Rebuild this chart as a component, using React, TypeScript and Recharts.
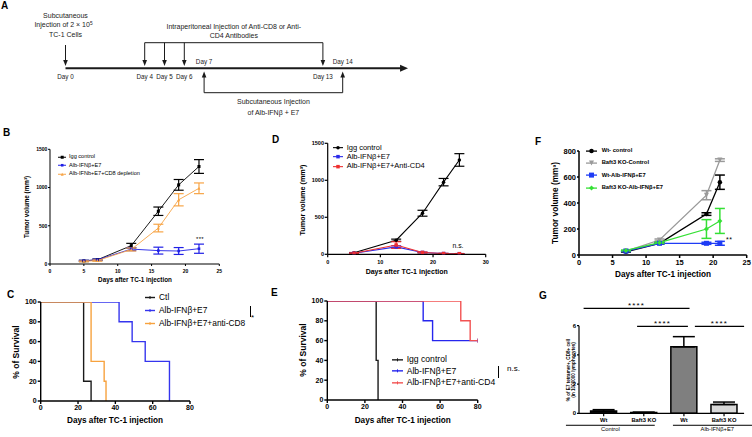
import React from 'react';
import {
  LineChart, Line, XAxis, YAxis, ErrorBar, Legend, ReferenceDot, ReferenceLine,
  BarChart, Bar, Cell, ComposedChart, Scatter,
} from 'recharts';

const FONT = '"Liberation Sans", Arial, Helvetica, sans-serif';

// A: treatment schedule, in days
const A_CELL_DAY = 0;
const A_ANTIBODY_DAYS = [4, 5, 6, 13];
const A_VACCINE_DAYS = [7, 14];
const A_AXIS_END = 17.3;

// B: tumor volume, CD8 depletion
const B_DAYS = [5, 7, 12, 16, 19, 22];
const B_IGG = [40, 55, 240, 690, 1035, 1275];
const B_IGG_ERR = [8, 10, 30, 55, 70, 90];
const B_ALB = [42, 55, 195, 175, 170, 200];
const B_ALB_ERR = [6, 8, 20, 45, 45, 60];
const B_CD8 = [35, 45, 190, 470, 840, 990];
const B_CD8_ERR = [5, 8, 20, 50, 80, 70];

// C: survival, CD8 depletion
const C_CTL_DAYS = [0, 23, 27];
const C_CTL_SURV = [100, 20, 0];
const C_ALB_DAYS = [0, 42, 49, 56, 69];
const C_ALB_SURV = [100, 80, 60, 40, 0];
const C_CD8_DAYS = [0, 27, 34, 35];
const C_CD8_SURV = [100, 40, 20, 0];

// D: tumor volume, CD4 depletion
const D_DAYS = [5, 13, 18, 22, 25];
const D_IGG = [20, 190, 555, 975, 1275];
const D_IGG_ERR = [4, 15, 40, 50, 85];
const D_ALB = [15, 100, 25, 10, 8];
const D_ALB_ERR = [3, 15, 5, 3, 2];
const D_CD4 = [15, 125, 25, 10, 8];
const D_CD4_ERR = [3, 45, 6, 3, 2];

// E: survival, CD4 depletion
const E_IGG_DAYS = [0, 26, 27];
const E_IGG_SURV = [100, 40, 0];
const E_ALB_DAYS = [0, 51, 56, 80];
const E_ALB_SURV = [100, 80, 60, 60];
const E_CD4_DAYS = [0, 71, 76, 80];
const E_CD4_SURV = [100, 80, 60, 60];

// F: Baft3 KO tumor volume
const F_DAYS = [7, 12, 19, 21];
const F_WT_CTL = [25, 90, 315, 560];
const F_WT_CTL_ERR = [3, 5, 10, 55];
const F_KO_CTL = [30, 115, 460, 730];
const F_KO_CTL_ERR = [3, 8, 35, 10];
const F_WT_ALB = [30, 90, 90, 90];
const F_WT_ALB_ERR = [3, 5, 8, 15];
const F_KO_ALB = [35, 95, 200, 262];
const F_KO_ALB_ERR = [3, 5, 72, 96];

// G: E7 tetramer+ CD8+ cells
const G_GENOTYPES = ['Wt', 'Baft3 KO', 'Wt', 'Baft3 KO'];
const G_GROUPS = ['Control', 'Alb-IFNβ+E7'];
const G_VALUES = [0.15, 0.05, 4.55, 0.6];
const G_ERR = [0.1, 0.03, 0.7, 0.17];
const G_FILLS = ['#111111', '#111111', '#7f7f7f', '#d9d9d9'];

type Shape = 'square' | 'circle' | 'triUp' | 'triDown' | 'diamond' | 'tick' | 'none';

function mark(shape: Shape, x: number, y: number, size: number, color: string, key?: string) {
  const h = size / 2;
  switch (shape) {
    case 'square':
      return <rect key={key} x={x - h} y={y - h} width={size} height={size} fill={color} />;
    case 'circle':
      return <circle key={key} cx={x} cy={y} r={h} fill={color} />;
    case 'triUp':
      return <polygon key={key} points={`${x},${y - h} ${x + h},${y + h} ${x - h},${y + h}`} fill={color} />;
    case 'triDown':
      return <polygon key={key} points={`${x},${y + h} ${x + h},${y - h} ${x - h},${y - h}`} fill={color} />;
    case 'diamond':
      return <polygon key={key} points={`${x},${y - h} ${x + h},${y} ${x},${y + h} ${x - h},${y}`} fill={color} />;
    case 'tick':
      return <line key={key} x1={x} x2={x} y1={y - h} y2={y + h} stroke={color} strokeWidth={1} />;
    default:
      return <g key={key} />;
  }
}

const dotOf = (shape: Shape, size: number, color: string) => (p: any) =>
  mark(shape, p.cx, p.cy, size, color, `d${p.index}`);

const endTick = (last: number, color: string) => (p: any) =>
  p.index === last ? mark('tick', p.cx, p.cy, 4, color, `d${p.index}`) : <g key={`d${p.index}`} />;

interface Item { name: string; color: string; shape: Shape; size: number }

function legendContent(items: Item[], o: { font: number; bold?: boolean; row: number; icon: number; gap: number; lw: number }) {
  return () => (
    <div style={{ fontFamily: FONT, fontSize: o.font, fontWeight: o.bold ? 'bold' : 'normal', color: '#000', whiteSpace: 'nowrap' }}>
      {items.map((it) => (
        <div key={it.name} style={{ display: 'flex', alignItems: 'center', height: o.row }}>
          <svg width={o.icon} height={o.row} style={{ display: 'block', flex: 'none' }}>
            <line x1={0} x2={o.icon} y1={o.row / 2} y2={o.row / 2} stroke={it.color} strokeWidth={o.lw} />
            {mark(it.shape, o.icon / 2, o.row / 2, it.size, it.color)}
          </svg>
          <span style={{ marginLeft: o.gap, lineHeight: 1 }}>{it.name}</span>
        </div>
      ))}
    </div>
  );
}

function Title({ x, y, size, rotate, children }: { x: number; y: number; size: number; rotate?: boolean; children: React.ReactNode }) {
  return (
    <text x={x} y={y} transform={rotate ? `rotate(-90 ${x} ${y})` : undefined} textAnchor="middle"
      dominantBaseline="central" fontFamily={FONT} fontSize={size} fontWeight="bold" fill="#000">
      {children}
    </text>
  );
}

const axisProps = (font: number, tickSize: number, tickMargin: number, sw: number) => ({
  tick: { fontSize: font, fontWeight: 'bold', fill: '#000', fontFamily: FONT },
  tickSize,
  tickMargin,
  tickLine: { stroke: '#000', strokeWidth: sw },
  axisLine: { stroke: '#000', strokeWidth: sw },
  interval: 0 as const,
  allowDataOverflow: true,
});

const textShape = (text: string, size: number, spacing = 0) => (p: any) => (
  <text x={p.cx} y={p.cy} textAnchor="middle" dominantBaseline="central" fontFamily={FONT}
    fontSize={size} letterSpacing={spacing} fill="#000">{text}</text>
);

function Schedule() {
  const W = 430;
  const H = 125;
  const pxPerDay = 19.8;
  const dMin = -65.5 / pxPerDay;
  const dMax = dMin + W / pxPerDay;
  const lineY = 68.3;
  const topY = 42.7;
  const botY = 92.7;
  const downTip = 66;
  const upTip = 71.5;
  const ink = '#1a1a1a';
  const abStart = A_ANTIBODY_DAYS[0];
  const abEnd = A_ANTIBODY_DAYS[A_ANTIBODY_DAYS.length - 1];
  const vxStart = A_VACCINE_DAYS[0];
  const vxEnd = A_VACCINE_DAYS[A_VACCINE_DAYS.length - 1];
  const downHeads = [A_CELL_DAY, ...A_ANTIBODY_DAYS].map((d) => ({ day: d, y: downTip }));
  const upHeads = A_VACCINE_DAYS.map((d) => ({ day: d, y: upTip }));
  const allDays = [A_CELL_DAY, ...A_ANTIBODY_DAYS, ...A_VACCINE_DAYS];
  const txt = { fontFamily: FONT, fill: '#222', textAnchor: 'middle' as const };

  return (
    <ComposedChart width={W} height={H} margin={{ top: 0, right: 0, bottom: 0, left: 0 }}>
      <XAxis type="number" dataKey="day" domain={[dMin, dMax]} hide allowDataOverflow />
      <YAxis type="number" dataKey="y" domain={[0, H]} reversed hide allowDataOverflow />
      <ReferenceLine segment={[{ x: A_CELL_DAY, y: lineY }, { x: A_AXIS_END - 0.3, y: lineY }]} stroke={ink} strokeWidth={2} />
      <ReferenceLine segment={[{ x: A_CELL_DAY, y: 45 }, { x: A_CELL_DAY, y: downTip - 4 }]} stroke={ink} />
      <ReferenceLine segment={[{ x: abStart, y: topY }, { x: abEnd, y: topY }]} stroke={ink} />
      {A_ANTIBODY_DAYS.map((d) => (
        <ReferenceLine key={`ab${d}`} segment={[{ x: d, y: topY }, { x: d, y: downTip - 4 }]} stroke={ink} />
      ))}
      <ReferenceLine segment={[{ x: vxStart, y: botY }, { x: vxEnd, y: botY }]} stroke={ink} />
      {A_VACCINE_DAYS.map((d) => (
        <ReferenceLine key={`vx${d}`} segment={[{ x: d, y: botY }, { x: d, y: upTip + 4 }]} stroke={ink} />
      ))}
      <Scatter data={downHeads} isAnimationActive={false}
        shape={(p: any) => <polygon points={`${p.cx - 2.3},${p.cy - 6} ${p.cx + 2.3},${p.cy - 6} ${p.cx},${p.cy}`} fill={ink} />} />
      <Scatter data={upHeads} isAnimationActive={false}
        shape={(p: any) => <polygon points={`${p.cx - 2.3},${p.cy + 6} ${p.cx + 2.3},${p.cy + 6} ${p.cx},${p.cy}`} fill={ink} />} />
      <Scatter data={[{ day: A_AXIS_END, y: lineY }]} isAnimationActive={false}
        shape={(p: any) => <polygon points={`${p.cx - 8},${p.cy - 3.5} ${p.cx - 8},${p.cy + 3.5} ${p.cx},${p.cy}`} fill={ink} />} />
      {allDays.map((d) => (
        <ReferenceDot key={`lab${d}`} x={d} y={A_VACCINE_DAYS.includes(d) ? 64 : 79.2} r={0}
          shape={(p: any) => <text x={p.cx} y={p.cy} {...txt} fontSize={6.3}>{`Day ${d}`}</text>} />
      ))}
      <ReferenceDot x={A_CELL_DAY} y={17.5} r={0}
        shape={(p: any) => (
          <text x={p.cx} y={p.cy} {...txt} fontSize={7}>
            <tspan x={p.cx} dy={0}>Subcutaneous</tspan>
            <tspan x={p.cx - 2} dy={9.7}>Injection of 2 × 10</tspan>
            <tspan dy={-2.5} fontSize={4.8}>5</tspan>
            <tspan x={p.cx} dy={12}>TC-1 Cells</tspan>
          </text>
        )} />
      <ReferenceDot x={(abStart + abEnd) / 2} y={28.5} r={0}
        shape={(p: any) => (
          <text x={p.cx} y={p.cy} {...txt} fontSize={7}>
            <tspan x={p.cx} dy={0}>Intraperitoneal Injection of Anti-CD8 or Anti-</tspan>
            <tspan x={p.cx} dy={9.7}>CD4 Antibodies</tspan>
          </text>
        )} />
      <ReferenceDot x={(vxStart + vxEnd) / 2} y={104.2} r={0}
        shape={(p: any) => (
          <text x={p.cx} y={p.cy} {...txt} fontSize={7}>
            <tspan x={p.cx} dy={0}>Subcutaneous Injection</tspan>
            <tspan x={p.cx} dy={10.6}>of Alb-IFNβ + E7</tspan>
          </text>
        )} />
    </ComposedChart>
  );
}

function PanelB() {
  const data = B_DAYS.map((d, i) => ({
    day: d, igg: B_IGG[i], iggErr: B_IGG_ERR[i], alb: B_ALB[i], albErr: B_ALB_ERR[i], cd8: B_CD8[i], cd8Err: B_CD8_ERR[i],
  }));
  const items: Item[] = [
    { name: 'Igg control', color: '#000000', shape: 'square', size: 3 },
    { name: 'Alb-IFNβ+E7', color: '#1f1fe6', shape: 'square', size: 2.6 },
    { name: 'Alb-IFNb+E7+CD8 depletion', color: '#f7a445', shape: 'triUp', size: 3 },
  ];
  const keys = ['igg', 'alb', 'cd8'];
  return (
    <LineChart width={250} height={160} data={data} margin={{ top: 24.3, right: 30.7, bottom: 0, left: 0 }}>
      <XAxis type="number" dataKey="day" domain={[0, 25]} ticks={[0, 5, 10, 15, 20, 25]} height={21} {...axisProps(5, 2, 3, 1)} />
      <YAxis type="number" domain={[0, 1500]} ticks={[0, 500, 1000, 1500]} width={50} {...axisProps(5, 2, 0.6, 1)} />
      {keys.map((k, i) => (
        <Line key={k} dataKey={k} stroke={items[i].color} strokeWidth={0.9} isAnimationActive={false} activeDot={false}
          dot={dotOf(items[i].shape, items[i].size, items[i].color)}>
          <ErrorBar dataKey={`${k}Err`} width={5} stroke={items[i].color} strokeWidth={1.2} direction="y" isAnimationActive={false} />
        </Line>
      ))}
      <ReferenceDot x={22.15} y={325} r={0} shape={textShape('***', 6, 0.3)} />
      <Title x={26} y={82} size={6.3} rotate>Tumor volume (mm³)</Title>
      <Title x={135} y={154} size={6.3}>Days after TC-1 injection</Title>
      <Legend layout="vertical" align="center" verticalAlign="middle" wrapperStyle={{ left: 58, top: 27.8, width: 'auto', height: 'auto' }}
        content={legendContent(items, { font: 5.6, row: 8.5, icon: 8.4, gap: 2.6, lw: 1 })} />
    </LineChart>
  );
}

function Survival({ width, left, right, top, series, items, yTitle, xTitle, legend, font }: any) {
  return (
    <LineChart width={width} height={157} margin={{ top, right, bottom: 0, left: 0 }}>
      <XAxis type="number" dataKey="day" domain={[0, 80]} ticks={[0, 20, 40, 60, 80]} height={157 - top - 99} {...axisProps(font, 3, 1.5, 1.4)} />
      <YAxis type="number" domain={[0, 100]} ticks={[0, 20, 40, 60, 80, 100]} width={left} {...axisProps(font, 3, 1, 1.4)} />
      {series.map((s: any, i: number) => (
        <Line key={items[i].name} data={s} dataKey="s" type="stepAfter" stroke={items[i].color} strokeWidth={1.4}
          isAnimationActive={false} activeDot={false} dot={s.length && s[s.length - 1].s > 0 ? endTick(s.length - 1, items[i].color) : false} />
      ))}
      <Title x={yTitle[0]} y={yTitle[1]} size={8.5} rotate>% of Survival</Title>
      <Title x={xTitle[0]} y={xTitle[1]} size={8.2}>Days after TC-1 injection</Title>
      <Legend layout="vertical" align="center" verticalAlign="middle" wrapperStyle={{ left: legend.left, top: legend.top, width: 'auto', height: 'auto' }}
        content={legendContent(items, { font: legend.font, row: legend.row, icon: legend.icon, gap: 4, lw: 1.4 })} />
    </LineChart>
  );
}

const steps = (days: number[], surv: number[]) => days.map((d, i) => ({ day: d, s: surv[i] }));

function PanelD() {
  const data = D_DAYS.map((d, i) => ({
    day: d, igg: D_IGG[i], iggErr: D_IGG_ERR[i], alb: D_ALB[i], albErr: D_ALB_ERR[i], cd4: D_CD4[i], cd4Err: D_CD4_ERR[i],
  }));
  const items: Item[] = [
    { name: 'Igg control', color: '#000000', shape: 'circle', size: 3.5 },
    { name: 'Alb-IFNβ+E7', color: '#2b2bea', shape: 'square', size: 3.5 },
    { name: 'Alb-IFNβ+E7+Anti-CD4', color: '#ee2f2f', shape: 'square', size: 3.5 },
  ];
  const keys = ['igg', 'alb', 'cd4'];
  return (
    <LineChart width={250} height={160} data={data} margin={{ top: 18.3, right: 14.3, bottom: 0, left: 0 }}>
      <XAxis type="number" dataKey="day" domain={[0, 30]} ticks={[0, 10, 20, 30]} height={30.7} {...axisProps(5.5, 3, 2.4, 1.2)} />
      <YAxis type="number" domain={[0, 1500]} ticks={[0, 500, 1000, 1500]} width={77.7} {...axisProps(5.5, 3, 0.7, 1.2)} />
      {keys.map((k, i) => (
        <Line key={k} dataKey={k} stroke={items[i].color} strokeWidth={1.1} isAnimationActive={false} activeDot={false}
          dot={dotOf(items[i].shape, items[i].size, items[i].color)}>
          <ErrorBar dataKey={`${k}Err`} width={5} stroke={items[i].color} strokeWidth={1.2} direction="y" isAnimationActive={false} />
        </Line>
      ))}
      <ReferenceDot x={24.74} y={116} r={0} shape={textShape('n.s.', 6.8)} />
      <Title x={52.7} y={75} size={7.2} rotate>Tumor volume (mm³)</Title>
      <Title x={156.7} y={146} size={7}>Days after TC-1 injection</Title>
      <Legend layout="vertical" align="center" verticalAlign="middle" wrapperStyle={{ left: 82.7, top: 18, width: 'auto', height: 'auto' }}
        content={legendContent(items, { font: 7.5, row: 9.3, icon: 10, gap: 4, lw: 1.1 })} />
    </LineChart>
  );
}

function PanelF() {
  const data = F_DAYS.map((d, i) => ({
    day: d, wc: F_WT_CTL[i], wcErr: F_WT_CTL_ERR[i], kc: F_KO_CTL[i], kcErr: F_KO_CTL_ERR[i],
    wa: F_WT_ALB[i], waErr: F_WT_ALB_ERR[i], ka: F_KO_ALB[i], kaErr: F_KO_ALB_ERR[i],
  }));
  const items: Item[] = [
    { name: 'Wt- control', color: '#000000', shape: 'circle', size: 4.5 },
    { name: 'Baft3 KO-Control', color: '#9a9a9a', shape: 'triDown', size: 5 },
    { name: 'Wt-Alb-IFNβ+E7', color: '#1f3cf5', shape: 'square', size: 5 },
    { name: 'Baft3 KO-Alb-IFNβ+E7', color: '#35e035', shape: 'diamond', size: 5 },
  ];
  const keys = ['wc', 'kc', 'wa', 'ka'];
  return (
    <LineChart width={252} height={160} data={data} margin={{ top: 26, right: 5.3, bottom: 0, left: 0 }}>
      <XAxis type="number" dataKey="day" domain={[0, 25]} ticks={[0, 5, 10, 15, 20, 25]} height={30} {...axisProps(7.5, 3, 1.3, 1.5)} />
      <YAxis type="number" domain={[0, 800]} ticks={[0, 200, 400, 600, 800]} width={79} {...axisProps(7.5, 2, 1, 1.5)} />
      {keys.map((k, i) => (
        <Line key={k} dataKey={k} stroke={items[i].color} strokeWidth={1.3} isAnimationActive={false} activeDot={false}
          dot={dotOf(items[i].shape, items[i].size, items[i].color)}>
          <ErrorBar dataKey={`${k}Err`} width={5} stroke={items[i].color} strokeWidth={1.5} direction="y" isAnimationActive={false} />
        </Line>
      ))}
      <ReferenceDot x={22.4} y={122} r={0} shape={textShape('**', 7, 0.6)} />
      <Title x={55} y={78} size={8.3} rotate>Tumor volume (mm³)</Title>
      <Title x={163} y={149} size={8.2}>Days after TC-1 injection</Title>
      <Legend layout="vertical" align="center" verticalAlign="middle" wrapperStyle={{ left: 86, top: 20, width: 'auto', height: 'auto' }}
        content={legendContent(items, { font: 5.8, bold: true, row: 12.2, icon: 11, gap: 4.7, lw: 1.3 })} />
    </LineChart>
  );
}

function PanelG() {
  const data = G_VALUES.map((v, i) => ({ id: i, v, err: [0, G_ERR[i]] }));
  const pad = { left: 4.6, right: 0 };
  const star = (value: string) => ({ value, position: 'top' as const, offset: 0, fontSize: 8, letterSpacing: 1.2, fill: '#000', fontFamily: FONT });
  const group = (value: string) => ({ value, position: 'bottom' as const, offset: 2, fontSize: 5.8, fill: '#000', fontFamily: FONT });
  return (
    <BarChart width={252} height={157} data={data} margin={{ top: 45.7, right: 7.9, bottom: 0, left: 0 }} barSize={26}>
      <XAxis dataKey="id" height={23.7} padding={pad} tickFormatter={(_v: any, i: number) => G_GENOTYPES[i]}
        {...axisProps(5.8, 3, 1.5, 1.2)} />
      <XAxis xAxisId="pos" type="number" domain={[-0.5, 3.5]} padding={pad} hide allowDataOverflow />
      <YAxis type="number" domain={[0, 6]} ticks={[0, 2, 4, 6]} width={79} {...axisProps(6, 2, 1, 1.2)} />
      <Bar dataKey="v" stroke="#000" strokeWidth={1.5} isAnimationActive={false}>
        {G_FILLS.map((c, i) => <Cell key={i} fill={c} />)}
        <ErrorBar dataKey="err" width={11} stroke="#000" strokeWidth={1.5} direction="y" isAnimationActive={false} />
      </Bar>
      <ReferenceLine xAxisId="pos" ifOverflow="visible" segment={[{ x: 0, y: 7.19 }, { x: 1.98, y: 7.19 }]} stroke="#000" strokeWidth={1.2} label={star('****')} />
      <ReferenceLine xAxisId="pos" ifOverflow="visible" segment={[{ x: 1, y: 5.96 }, { x: 1.95, y: 5.96 }]} stroke="#000" strokeWidth={1.2} label={star('****')} />
      <ReferenceLine xAxisId="pos" ifOverflow="visible" segment={[{ x: 2.08, y: 5.96 }, { x: 3, y: 5.96 }]} stroke="#000" strokeWidth={1.2} label={star('****')} />
      <ReferenceLine xAxisId="pos" ifOverflow="visible" segment={[{ x: -0.33, y: -0.82 }, { x: 1.33, y: -0.82 }]} stroke="#000" strokeWidth={1} label={group(G_GROUPS[0])} />
      <ReferenceLine xAxisId="pos" ifOverflow="visible" segment={[{ x: 1.67, y: -0.82 }, { x: 3.33, y: -0.82 }]} stroke="#000" strokeWidth={1} label={group(G_GROUPS[1])} />
      <Title x={68.3} y={90} size={4.6} rotate>% of E7 tetramer+, CD8+ cell</Title>
      <Title x={73} y={90} size={4.6} rotate>(in 1000000 lymphocytes)</Title>
    </BarChart>
  );
}

const letter = (ch: string, left: number, top: number) => (
  <div key={ch} style={{ position: 'absolute', left, top, fontSize: 10, lineHeight: '10px', fontWeight: 'bold', fontFamily: FONT, color: '#000' }}>{ch}</div>
);

const place = (left: number, top: number, child: React.ReactNode) => (
  <div style={{ position: 'absolute', left, top }}>{child}</div>
);

export default function App() {
  const cItems: Item[] = [
    { name: 'Ctl', color: '#1a1a1a', shape: 'tick', size: 3 },
    { name: 'Alb-IFNβ+E7', color: '#3535ee', shape: 'tick', size: 3 },
    { name: 'Alb-IFNβ+E7+anti-CD8', color: '#f7a23e', shape: 'tick', size: 3 },
  ];
  const eItems: Item[] = [
    { name: 'Igg control', color: '#1a1a1a', shape: 'tick', size: 3 },
    { name: 'Alb-IFNβ+E7', color: '#2626ee', shape: 'tick', size: 3 },
    { name: 'Alb-IFNβ+E7+anti-CD4', color: '#f25252', shape: 'tick', size: 3 },
  ];
  return (
    <div style={{ position: 'absolute', left: 0, top: 0, width: 752, height: 437, background: '#fff', overflow: 'hidden' }}>
      {place(0, 0, <Schedule />)}
      {place(0, 125, <PanelB />)}
      {place(0, 280, (
        <Survival width={262} left={40.7} right={72} top={22}
          series={[steps(C_CTL_DAYS, C_CTL_SURV), steps(C_ALB_DAYS, C_ALB_SURV), steps(C_CD8_DAYS, C_CD8_SURV)]}
          items={cItems} yTitle={[16, 72]} xTitle={[115, 140]} font={7}
          legend={{ left: 145, top: 10.5, row: 13, icon: 10, font: 8.4 }} />
      ))}
      {place(250, 125, <PanelD />)}
      {place(250, 280, (
        <Survival width={272} left={77.3} right={44.3} top={21}
          series={[steps(E_IGG_DAYS, E_IGG_SURV), steps(E_ALB_DAYS, E_ALB_SURV), steps(E_CD4_DAYS, E_CD4_SURV)]}
          items={eItems} yTitle={[53.3, 70]} xTitle={[152.7, 140]} font={7}
          legend={{ left: 141.7, top: 73.5, row: 11.7, icon: 11, font: 8.6 }} />
      ))}
      {place(500, 125, <PanelF />)}
      {place(500, 280, <PanelG />)}
      <div style={{ position: 'absolute', left: 249.5, top: 306, width: 1, height: 11, background: '#000' }} />
      <div style={{ position: 'absolute', left: 251, top: 313, fontSize: 8, fontFamily: FONT, lineHeight: '10px' }}>*</div>
      <div style={{ position: 'absolute', left: 497.5, top: 366, width: 1, height: 12, background: '#000' }} />
      <div style={{ position: 'absolute', left: 507, top: 364, fontSize: 8, fontFamily: FONT, lineHeight: '10px' }}>n.s.</div>
      {letter('A', 1, 1.4)}
      {letter('B', 3, 127.7)}
      {letter('C', 7, 289.7)}
      {letter('D', 272, 134.7)}
      {letter('E', 271, 287.7)}
      {letter('F', 535, 136.7)}
      {letter('G', 539, 290.7)}
    </div>
  );
}
